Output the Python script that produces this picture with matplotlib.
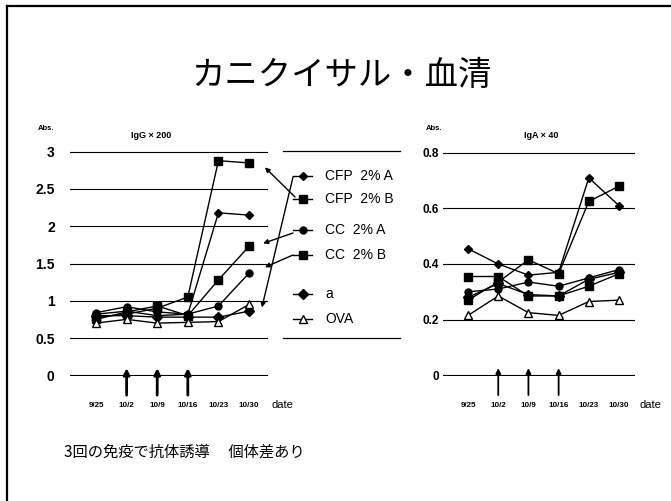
import matplotlib.pyplot as plt
from matplotlib.lines import Line2D

plt.rcParams['font.family'] = ['Liberation Sans', 'Noto Sans CJK JP', 'DejaVu Sans']

W, H = 671, 501

dates = ["9/25", "10/2", "10/9", "10/16", "10/23", "10/30"]
labels = ["CFP  2% A", "CFP  2% B", "CC  2% A", "CC  2% B", "a", "OVA"]
markers = ["D", "s", "o", "s", "D", "^"]
msizes = [4.5, 5.5, 5.0, 5.5, 5.0, 5.5]
fills = ["black", "black", "black", "black", "black", "white"]

# IgG x 200
igg = [
    [0.82, 0.86, 0.80, 0.82, 2.18, 2.15],
    [0.78, 0.82, 0.90, 1.05, 2.88, 2.85],
    [0.84, 0.92, 0.85, 0.82, 0.93, 1.37],
    [0.75, 0.85, 0.93, 0.80, 1.28, 1.73],
    [0.80, 0.80, 0.78, 0.78, 0.78, 0.86],
    [0.70, 0.75, 0.70, 0.71, 0.72, 0.95],
]

# IgA x 40
iga = [
    [0.455, 0.40, 0.36, 0.37, 0.71, 0.61],
    [0.27, 0.335, 0.415, 0.365, 0.625, 0.68],
    [0.30, 0.31, 0.335, 0.32, 0.35, 0.38],
    [0.355, 0.355, 0.285, 0.285, 0.32, 0.365],
    [0.28, 0.33, 0.29, 0.285, 0.345, 0.37],
    [0.215, 0.285, 0.225, 0.215, 0.265, 0.27],
]

igg_ticks = [0, 0.5, 1, 1.5, 2, 2.5, 3]
iga_ticks = [0, 0.2, 0.4, 0.6, 0.8]
boost_days = [1, 2, 3]  # immunisations on 10/2, 10/9, 10/16


def fig_xy(x, y):
    return (x / W, 1 - y / H)


fig = plt.figure(figsize=(W / 100, H / 100), dpi=100)

# slide border (top + left)
fig.add_artist(Line2D([7 / W, 7 / W], [0, 1 - 6 / H], transform=fig.transFigure, color="black", lw=1.6))
fig.add_artist(Line2D([7 / W, 1], [1 - 6 / H, 1 - 6 / H], transform=fig.transFigure, color="black", lw=1.6))

fig.text(*fig_xy(342, 75), "カニクイサル・血清", fontsize=24, ha="center", va="center",
         family=["Noto Sans CJK JP", "DejaVu Sans"])
fig.text(*fig_xy(64, 452), "3回の免疫で抗体誘導　 個体差あり", fontsize=11, ha="left", va="center",
         family=["Noto Sans CJK JP", "DejaVu Sans"])


def panel(rect, data, ticks, ylim, xlim, tick_fs, pad, arrow_lw, arrow_ms):
    ax = fig.add_axes(rect)
    for vals, m, ms, fc in zip(data, markers, msizes, fills):
        ax.plot(range(6), vals, color="black", lw=1.0, marker=m, markersize=ms,
                markerfacecolor=fc, markeredgecolor="black", markeredgewidth=1.0)
    ax.set_ylim(*ylim)
    ax.set_xlim(*xlim)
    ax.set_yticks(ticks)
    ax.set_yticklabels([("%g" % t) for t in ticks], fontsize=tick_fs, fontweight="bold")
    ax.set_xticks(range(6))
    ax.set_xticklabels(dates, fontsize=5.8, fontweight="bold")
    ax.tick_params(axis="x", length=0, pad=19)
    ax.tick_params(axis="y", length=0, pad=pad)
    ax.grid(axis="y", color="black", lw=0.8)
    ax.set_axisbelow(True)
    for s in ax.spines.values():
        s.set_visible(False)
    for d in boost_days:
        ax.annotate("", xy=(d, 0.035), xytext=(d, -0.085),
                    xycoords=("data", "axes fraction"), textcoords=("data", "axes fraction"),
                    annotation_clip=False,
                    arrowprops=dict(arrowstyle="-|>", color="black", lw=arrow_lw,
                                    mutation_scale=arrow_ms, shrinkA=0, shrinkB=0))
    return ax


ax1 = panel([70 / W, 125 / H, 198 / W, 225 / H], igg, igg_ticks, (-0.01, 3.01),
            (-0.85, 5.62), 10, 11, 2.0, 9)
ax2 = panel([443 / W, 125 / H, 192 / W, 224 / H], iga, iga_ticks, (-0.003, 0.803),
            (-0.83, 5.53), 8.5, 3, 1.3, 7)

fig.text(*fig_xy(46, 128), "Abs.", fontsize=5.5, fontweight="bold", ha="center", va="center")
fig.text(*fig_xy(151, 135), "IgG × 200", fontsize=6.5, fontweight="bold", ha="center", va="center")
fig.text(*fig_xy(434, 128), "Abs.", fontsize=5.5, fontweight="bold", ha="center", va="center")
fig.text(*fig_xy(541, 135), "IgA × 40", fontsize=6.5, fontweight="bold", ha="center", va="center")
fig.text(*fig_xy(272, 405), "date", fontsize=8, ha="left", va="center")
fig.text(*fig_xy(640, 405), "date", fontsize=8, ha="left", va="center")

# legend block between the panels
legend_y = [176, 199, 230, 255, 294, 319]
for y0 in (151, 338):
    fig.add_artist(Line2D([283 / W, 400 / W], [1 - y0 / H] * 2, transform=fig.transFigure,
                          color="black", lw=0.9))
for lab, m, ms, fc, y0 in zip(labels, markers, msizes, fills, legend_y):
    fig.add_artist(Line2D([293 / W, 312 / W], [1 - y0 / H] * 2, transform=fig.transFigure,
                          color="black", lw=1.0))
    fig.add_artist(Line2D([302.5 / W], [1 - y0 / H], transform=fig.transFigure, marker=m,
                          markersize=ms, markerfacecolor=fc, markeredgecolor="black",
                          markeredgewidth=1.0, color="black", lw=0))
    fig.text(*fig_xy(325, y0), lab, fontsize=10, ha="left", va="center")

# pointer arrows from legend to curves (tips in IgG data coords)
pointers = [((295, 197), (5.52, 2.79)),
            ((293, 177), (5.42, 0.91)),
            ((293, 233), (5.46, 1.77)),
            ((293, 255), (5.52, 1.45))]
for (tx, ty), tip in pointers:
    ax1.annotate("", xy=tip, xycoords="data", xytext=(tx, H - ty), textcoords="figure pixels",
                 annotation_clip=False,
                 arrowprops=dict(arrowstyle="-|>", color="black", lw=1.0,
                                 mutation_scale=7, shrinkA=0, shrinkB=0))

fig.savefig("out.png", dpi=100)
